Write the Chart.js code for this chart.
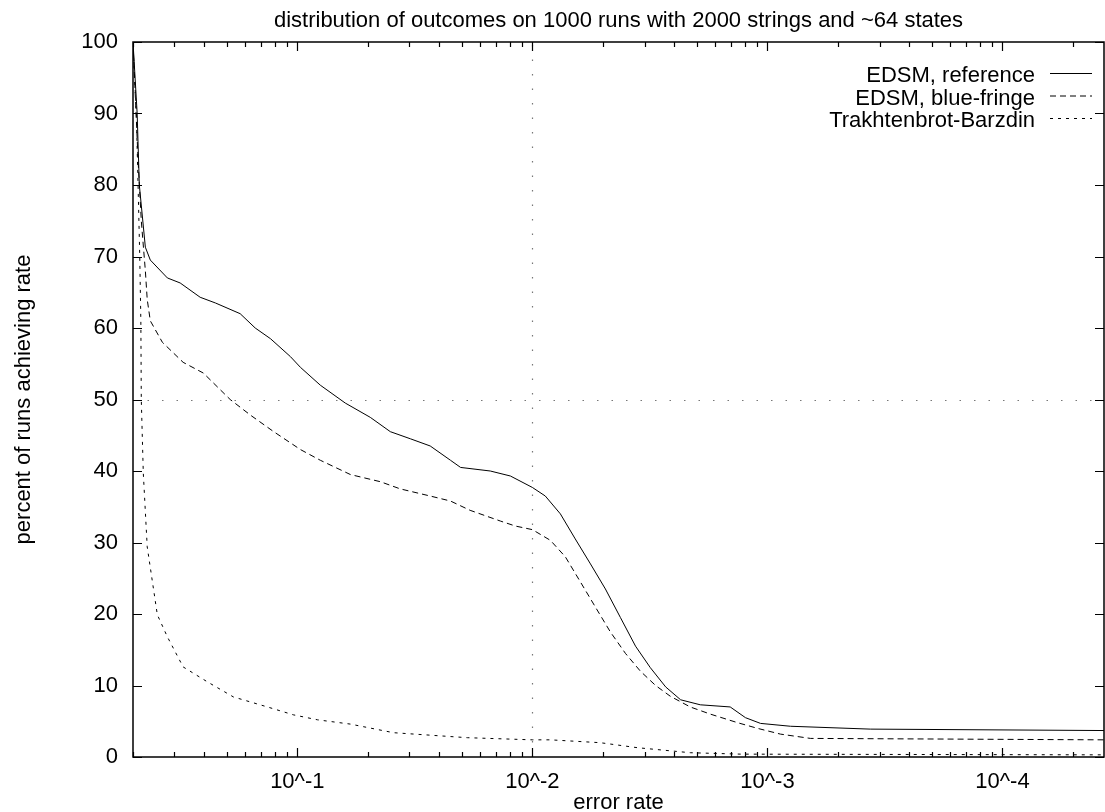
<!DOCTYPE html>
<html>
<head>
<meta charset="utf-8">
<title>distribution of outcomes</title>
<script src="https://cdn.jsdelivr.net/npm/chart.js@4.4.0/dist/chart.umd.min.js"></script>
<style>
  body { margin: 0; background: #fff; }
</style>
</head>
<body>
<canvas id="myChart" width="1105" height="812"></canvas>
<script>
var chartTitle = "distribution of outcomes on 1000 runs with 2000 strings and ~64 states";
var seriesNames = ["EDSM, reference", "EDSM, blue-fringe", "Trakhtenbrot-Barzdin"];
var xTitle = "error rate";
var yTitle = "percent of runs achieving rate";

// error rate (x) and percent of runs (y)
var refErr = [0.5, 0.48, 0.47, 0.443, 0.422, 0.357, 0.315, 0.259, 0.223, 0.175, 0.151, 0.130, 0.107, 0.097, 0.0798, 0.0625, 0.0489, 0.0402, 0.0330, 0.0272, 0.0223, 0.0202, 0.0151, 0.0124, 0.0100, 0.00881, 0.0076, 0.00657, 0.00566, 0.00489, 0.00422, 0.00364, 0.00315, 0.00271, 0.00234, 0.00193, 0.00144, 0.00124, 0.00107, 0.000798, 0.000365, 0.000037];
var refPct = [100, 90, 80, 71.3, 69.5, 67, 66.3, 64.3, 63.5, 62, 60, 58.5, 56, 54.5, 52, 49.5, 47.5, 45.5, 44.5, 43.5, 41.5, 40.5, 40, 39.3, 37.7, 36.5, 34, 30.5, 27, 23.5, 19.5, 15.5, 12.5, 9.8, 8, 7.3, 7, 5.5, 4.7, 4.3, 3.9, 3.7];

var bfErr = [0.5, 0.475, 0.461, 0.443, 0.435, 0.422, 0.375, 0.306, 0.251, 0.193, 0.158, 0.126, 0.097, 0.0798, 0.0594, 0.0443, 0.0365, 0.0272, 0.0223, 0.0184, 0.01368, 0.0118, 0.0100, 0.00838, 0.00724, 0.00625, 0.00540, 0.00466, 0.00402, 0.00347, 0.00299, 0.00259, 0.00213, 0.00175, 0.00134, 0.0011, 0.00088, 0.000656, 0.000037];
var bfPct = [100, 83, 75, 68, 64, 61, 58, 55.2, 53.7, 50, 47.8, 45.5, 43, 41.5, 39.5, 38.5, 37.5, 36.5, 35.8, 34.5, 33, 32.3, 31.8, 30.3, 28, 24.5, 21, 17.5, 14.5, 12, 10, 8.5, 7, 6, 4.8, 4, 3.2, 2.6, 2.4];

var tbErr = [0.5, 0.484, 0.475, 0.468, 0.463, 0.461, 0.452, 0.435, 0.394, 0.357, 0.306, 0.241, 0.187, 0.134, 0.104, 0.082, 0.0594, 0.039, 0.0189, 0.0100, 0.00838, 0.00514, 0.00357, 0.00213, 0.0013, 0.000037];
var tbPct = [100, 90, 79, 70, 61, 50, 39.7, 29.4, 19.9, 16.8, 12.6, 10.5, 8.4, 7, 5.9, 5.2, 4.6, 3.4, 2.7, 2.4, 2.4, 2, 1.3, 0.6, 0.4, 0.3];

var majorTicks = [1e-1, 1e-2, 1e-3, 1e-4];
var majorLabels = ["10^-1", "10^-2", "10^-3", "10^-4"];
var yTicks = [0, 10, 20, 30, 40, 50, 60, 70, 80, 90, 100];
var xMin = 0.000037, xMax = 0.5;

var FONT = "'Liberation Sans', Arial, Helvetica, sans-serif";

// gnuplot puts the minor tics at 1/(k*10^n)
var minorTicks = [];
for (var d = 0; d <= 4; d++) {
  for (var k = 2; k <= 9; k++) {
    var v = 1 / (k * Math.pow(10, d));
    if (v <= xMax && v >= xMin) minorTicks.push(v);
  }
}

function pts(xs, ys) {
  return xs.map(function (x, i) { return { x: x, y: ys[i] }; });
}

var styles = [[], [6, 4], [3, 5]];

var decor = {
  id: 'decor',
  beforeDatasetsDraw: function (chart) {
    var c = chart.ctx, a = chart.chartArea, sx = chart.scales.x, sy = chart.scales.y;
    c.save();
    c.strokeStyle = '#777';
    c.lineWidth = 1.2;
    c.setLineDash([1.5, 13]);
    var gx = Math.round(sx.getPixelForValue(1e-2)) + 0.5;
    c.beginPath(); c.moveTo(gx, a.bottom); c.lineTo(gx, a.top); c.stroke();
    var gy = Math.round(sy.getPixelForValue(50)) + 0.5;
    c.beginPath(); c.moveTo(a.left, gy); c.lineTo(a.right, gy); c.stroke();
    c.restore();
  },
  afterDatasetsDraw: function (chart) {
    var c = chart.ctx, a = chart.chartArea, sx = chart.scales.x, sy = chart.scales.y;
    c.save();
    c.strokeStyle = '#000';
    c.lineWidth = 1.5;
    c.setLineDash([]);
    c.strokeRect(a.left, a.top, a.right - a.left, a.bottom - a.top);
    c.lineWidth = 1.2;
    c.beginPath();
    function xt(v, len) {
      var px = Math.round(sx.getPixelForValue(v)) + 0.5;
      c.moveTo(px, a.bottom); c.lineTo(px, a.bottom - len);
      c.moveTo(px, a.top); c.lineTo(px, a.top + len);
    }
    majorTicks.forEach(function (v) { xt(v, 9); });
    minorTicks.forEach(function (v) { xt(v, 5); });
    yTicks.forEach(function (v) {
      var py = Math.round(sy.getPixelForValue(v)) + 0.5;
      c.moveTo(a.left, py); c.lineTo(a.left + 9, py);
      c.moveTo(a.right, py); c.lineTo(a.right - 9, py);
    });
    c.stroke();
    c.restore();
  },
  afterDraw: function (chart) {
    var c = chart.ctx, a = chart.chartArea;
    c.save();
    c.fillStyle = '#000';
    c.font = '22px ' + FONT;
    c.textAlign = 'center';
    c.textBaseline = 'alphabetic';
    c.fillText(chartTitle, (a.left + a.right) / 2, 27);
    // legend: text right aligned, sample line to the right
    c.textAlign = 'right';
    chart.data.datasets.forEach(function (ds, i) {
      var base = 82 + i * 22.5;
      c.fillText(ds.label, 1035, base);
      c.strokeStyle = '#000';
      c.lineWidth = 1;
      c.setLineDash(ds.borderDash || []);
      c.beginPath();
      c.moveTo(1050, base - 8.5); c.lineTo(1092, base - 8.5);
      c.stroke();
    });
    c.restore();
  }
};

var ctx = document.getElementById('myChart').getContext('2d');
var myChart = new Chart(ctx, {
  type: 'line',
  data: {
    datasets: [{
      label: seriesNames[0],
      data: pts(refErr, refPct),
      borderColor: '#000',
      borderWidth: 1,
      borderDash: styles[0],
      pointRadius: 0,
      fill: false
    }, {
      label: seriesNames[1],
      data: pts(bfErr, bfPct),
      borderColor: '#000',
      borderWidth: 1,
      borderDash: styles[1],
      pointRadius: 0,
      fill: false
    }, {
      label: seriesNames[2],
      data: pts(tbErr, tbPct),
      borderColor: '#000',
      borderWidth: 1,
      borderDash: styles[2],
      pointRadius: 0,
      fill: false
    }]
  },
  options: {
    responsive: false,
    animation: false,
    layout: { padding: { top: 42, right: 1, left: 0, bottom: 0 } },
    plugins: {
      legend: { display: false },
      tooltip: { enabled: false }
    },
    scales: {
      x: {
        type: 'logarithmic',
        reverse: true,
        min: xMin,
        max: xMax,
        afterBuildTicks: function (s) {
          s.ticks = majorTicks.map(function (v) { return { value: v }; });
        },
        afterFit: function (s) { s.height = 55; },
        grid: { display: false },
        border: { display: false },
        ticks: {
          autoSkip: false,
          maxRotation: 0,
          padding: 4,
          color: '#000',
          font: { family: FONT, size: 22 },
          callback: function (v) {
            var i = majorTicks.indexOf(v);
            return i >= 0 ? majorLabels[i] : '';
          }
        },
        title: {
          display: true,
          text: xTitle,
          color: '#000',
          font: { family: FONT, size: 22, lineHeight: 0.85 },
          padding: { top: 0, bottom: 0 }
        }
      },
      y: {
        min: 0,
        max: 100,
        afterFit: function (s) { s.width = 133; },
        grid: { display: false },
        border: { display: false },
        ticks: {
          stepSize: 10,
          padding: 7,
          color: '#000',
          font: { family: FONT, size: 22 }
        },
        title: {
          display: true,
          text: yTitle,
          color: '#000',
          font: { family: FONT, size: 22 },
          padding: { top: 11, bottom: 0 }
        }
      }
    }
  },
  plugins: [decor]
});
</script>
</body>
</html>
